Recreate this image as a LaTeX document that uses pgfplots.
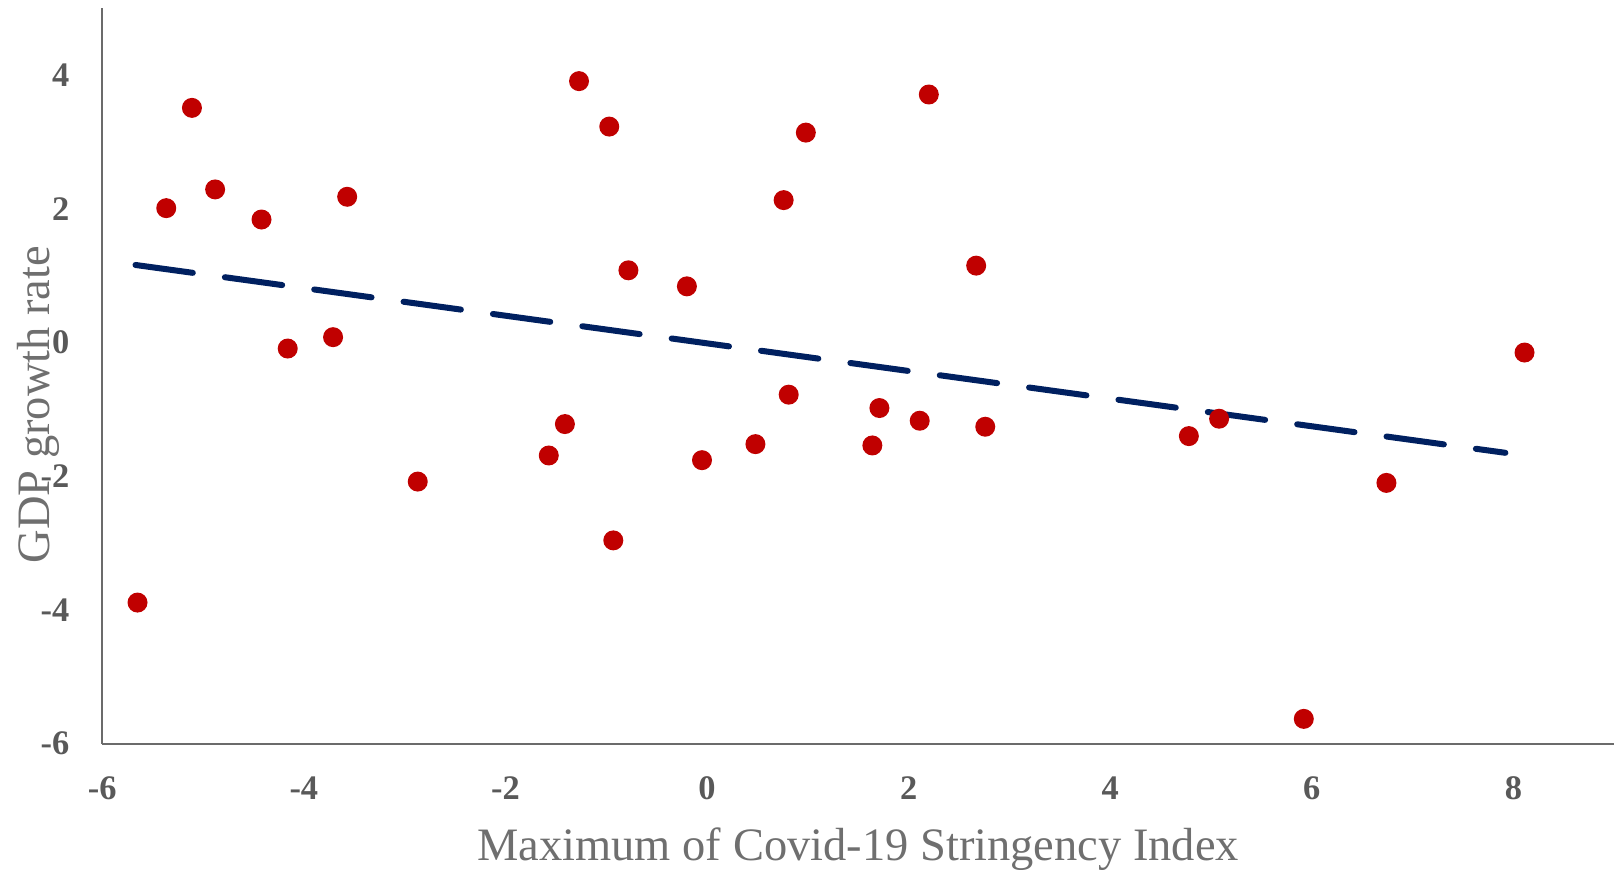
\documentclass[border=0pt]{standalone}
\usepackage{pgfplots}
\pgfplotsset{compat=1.18}
\usepackage{fontspec}
\setmainfont{Liberation Serif}
\definecolor{dotred}{HTML}{C00000}
\definecolor{trendblue}{HTML}{002060}
\definecolor{txtgray}{HTML}{595959}
\definecolor{lblgray}{HTML}{6F6F6F}
\definecolor{axgray}{HTML}{6B6B6B}

\begin{document}
\begin{tikzpicture}
\begin{axis}[
  scale only axis, width=439.2pt, height=213.6pt,
  anchor=south west, at={(0,0)},
  xmin=-6, xmax=9, ymin=-6, ymax=5,
  axis x line*=bottom, axis y line*=left,
  axis line style={axgray, line width=0.6pt, -},
  xtick={-6,-4,...,8}, ytick={-6,-4,...,4},
  major tick length=0pt,
  tick label style={font=\fontsize{10}{12}\selectfont\bfseries, text=txtgray},
  /pgf/number format/assume math mode=true,
  xticklabel style={yshift=-6pt},
  yticklabel style={xshift=-6pt},
  xlabel={Maximum of Covid-19 Stringency Index},
  ylabel={GDP growth rate},
  every axis x label/.style={at={(axis description cs:0.5,-0.159)}, anchor=base, font=\fontsize{13.5}{15}\selectfont, text=lblgray},
  every axis y label/.style={at={(axis description cs:-0.0424,0.461)}, rotate=90, anchor=center, font=\fontsize{13.5}{15}\selectfont, text=lblgray},
  clip=false,
]
\addplot[only marks, mark=*, mark size=2.7pt, color=dotred, mark options={draw=none, fill=dotred}] coordinates {
(-5.65,-3.89) (-5.365,2.01) (-5.11,3.51) (-4.88,2.29) (-4.42,1.84)
(-4.16,-0.09) (-3.71,0.08) (-3.57,2.18) (-2.87,-2.08) (-1.57,-1.69)
(-1.41,-1.22) (-1.27,3.91) (-0.97,3.23) (-0.93,-2.96) (-0.78,1.08)
(-0.20,0.84) (-0.05,-1.76) (0.48,-1.52) (0.76,2.13) (0.81,-0.78)
(0.98,3.14) (1.64,-1.54) (1.71,-0.98) (2.11,-1.17) (2.20,3.71)
(2.67,1.15) (2.76,-1.26) (4.78,-1.40) (5.08,-1.14) (5.92,-5.63)
(6.74,-2.10) (8.11,-0.15)
};
\addplot[trendblue, line width=1.75pt, line cap=round, dash pattern=on 16.8pt off 9.4pt] coordinates {
(-5.67,1.16) (7.92,-1.65)
};
\end{axis}
\pgfresetboundingbox
\useasboundingbox (-29.7pt,-36.7pt) rectangle (440pt,216pt);
\end{tikzpicture}
\end{document}
